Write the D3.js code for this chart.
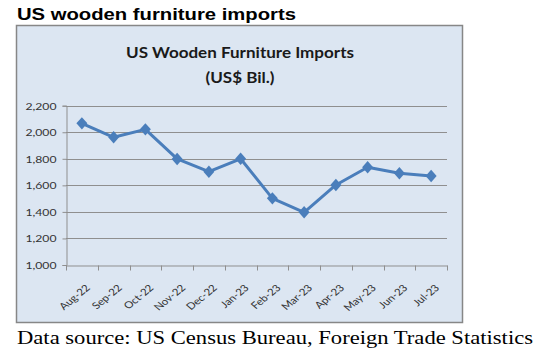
<!DOCTYPE html>
<html><head><meta charset="utf-8">
<script src="https://cdn.jsdelivr.net/npm/d3@7"></script>
<style>
html,body{margin:0;padding:0;background:#fff;}
svg{display:block;}
</style></head>
<body>
<script>
const months = ["Aug-22","Sep-22","Oct-22","Nov-22","Dec-22","Jan-23","Feb-23","Mar-23","Apr-23","May-23","Jun-23","Jul-23"];
const imports = [2067,1962,2022,1799,1703,1800,1502,1397,1603,1736,1691,1670];
const yTicks = [1000,1200,1400,1600,1800,2000,2200];
const pageTitle = "US wooden furniture imports";
const chartTitle = ["US Wooden Furniture Imports","(US$ Bil.)"];
const sourceNote = "Data source: US Census Bureau, Foreign Trade Statistics";

const W = 541, H = 353, SX = 1.22;
const svg = d3.select("body").append("svg").attr("width",W).attr("height",H);

svg.append("text").attr("x",17).attr("y",19.5)
  .attr("font-family","Liberation Sans, Arial, sans-serif").attr("font-weight","bold")
  .attr("font-size",16.5).attr("fill","#000")
  .attr("textLength",279).attr("lengthAdjust","spacingAndGlyphs").text(pageTitle);

// chart box
svg.append("rect").attr("x",16.5).attr("y",25.5).attr("width",446).attr("height",297)
  .attr("fill","#dce6f2").attr("stroke","#878787").attr("stroke-width",1.5);

const titleLens = [228,69];
const tg = svg.append("g").attr("font-family","Lato, Carlito, sans-serif").attr("font-weight","bold")
  .attr("font-size",14.5).attr("fill","#1a1a1a");
chartTitle.forEach((t,i)=>tg.append("text").attr("x",240-titleLens[i]/2).attr("y",58+i*25)
  .attr("textLength",titleLens[i]).attr("lengthAdjust","spacingAndGlyphs").text(t));

const x = d3.scaleBand().domain(months).range([66,447]);
const y = d3.scaleLinear().domain([1000,2200]).range([265,105.7]);

const g = svg.append("g");
// gridlines
g.selectAll("line.grid").data(yTicks.slice(1)).join("line").attr("class","grid")
  .attr("x1",66).attr("x2",447).attr("y1",d=>Math.round(y(d))+0.5).attr("y2",d=>Math.round(y(d))+0.5)
  .attr("stroke","#8f8f8f").attr("stroke-width",1);

// y axis
const yAxis = g.append("g").attr("transform","translate(66.5,0)")
  .call(d3.axisLeft(y).tickValues(yTicks).tickFormat(d3.format(",")).tickSize(4).tickPadding(0));
yAxis.select(".domain").attr("stroke","#8f8f8f");
yAxis.selectAll(".tick line").attr("stroke","#8f8f8f");
yAxis.selectAll(".tick text").attr("font-family","Lato, Carlito, sans-serif").attr("font-size",10)
  .attr("fill","#333").attr("x",null).attr("dy",null).attr("y",null)
  .attr("transform",`translate(-10,3.5) scale(${SX},1)`);

// x axis
const xAxis = g.append("g").attr("transform","translate(0,265.5)")
  .call(d3.axisBottom(x).tickSize(0).tickPadding(0));
xAxis.select(".domain").attr("stroke","#8f8f8f");
xAxis.selectAll(".tick line").remove();
const bounds = months.map(m=>x(m)).concat([447]);
xAxis.selectAll("line.bt").data(bounds).join("line").attr("class","bt")
  .attr("x1",d=>Math.round(d)+0.5).attr("x2",d=>Math.round(d)+0.5).attr("y1",0).attr("y2",5)
  .attr("stroke","#8f8f8f");
xAxis.selectAll(".tick text")
  .attr("font-family","Lato, Carlito, sans-serif").attr("font-size",9.5).attr("fill","#333")
  .attr("text-anchor","end").attr("dy",null).attr("y",null)
  .attr("transform",`translate(9,23) scale(${SX},1) rotate(-45)`);

// line
const pts = months.map((m,i)=>[x(m)+x.bandwidth()/2, y(imports[i])]);
g.append("path").datum(pts).attr("d",d3.line()).attr("fill","none")
  .attr("stroke","#4a7ebb").attr("stroke-width",3).attr("stroke-linejoin","round");
const diamond = {draw(ctx,size){const w=5.5,h=6.2;ctx.moveTo(0,-h);ctx.lineTo(w,0);ctx.lineTo(0,h);ctx.lineTo(-w,0);ctx.closePath();}};
g.selectAll("path.mk").data(pts).join("path").attr("class","mk")
  .attr("d",d3.symbol(diamond)())
  .attr("transform",d=>`translate(${d[0]},${d[1]})`)
  .attr("fill","#4a7ebb");

svg.append("text").attr("x",17).attr("y",343.5)
  .attr("font-family","Liberation Serif, Times New Roman, serif")
  .attr("font-size",18).attr("fill","#000")
  .attr("textLength",516).attr("lengthAdjust","spacingAndGlyphs").text(sourceNote);
</script>
</body></html>
